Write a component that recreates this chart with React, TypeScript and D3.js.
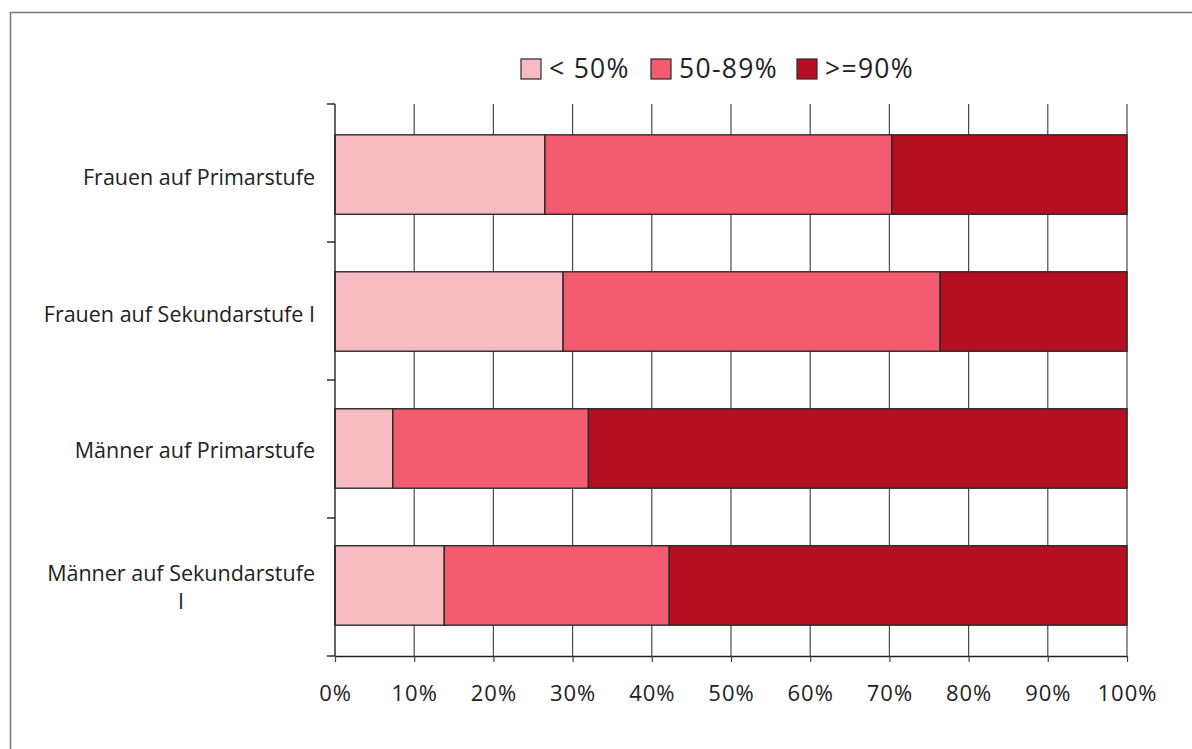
import { useEffect, useRef } from "react";
import * as d3 from "d3";

const categories = [
  "Frauen auf Primarstufe",
  "Frauen auf Sekundarstufe I",
  "Männer auf Primarstufe",
  "Männer auf Sekundarstufe I",
];
const seriesNames = ["< 50%", "50-89%", ">=90%"];
const seriesColors = ["#F8BBC2", "#F25C6E", "#B51022"];
const under50 = [26.5, 28.8, 7.3, 13.8];
const from50to89 = [43.8, 47.6, 24.7, 28.4];
const over90 = [29.7, 23.6, 68.0, 57.8];
const xTicks = [0, 10, 20, 30, 40, 50, 60, 70, 80, 90, 100];

const FONT = "'Open Sans', 'Noto Sans', sans-serif";

export default function App() {
  const svgRef = useRef<SVGSVGElement>(null);

  useEffect(() => {
    if (!svgRef.current) return;
    const svg = d3.select(svgRef.current);
    svg.selectAll("*").remove();

    const width = 1192;
    const height = 749;
    const margin = { top: 104, right: 65, bottom: 93, left: 335 };

    // frame around the chart
    svg
      .append("rect")
      .attr("x", 10.5)
      .attr("y", 12.5)
      .attr("width", width + 20)
      .attr("height", height + 20)
      .attr("fill", "white")
      .attr("stroke", "#7a7a7a")
      .attr("stroke-width", 1.5);

    const x = d3
      .scaleLinear()
      .domain([0, 100])
      .range([margin.left, width - margin.right]);

    const y = d3
      .scaleBand()
      .domain(categories)
      .range([margin.top, height - margin.bottom])
      .paddingInner(0.42)
      .paddingOuter(0.225);

    const rows = categories.map((c, i) => ({
      category: c,
      values: [under50[i], from50to89[i], over90[i]],
    }));

    // vertical gridlines
    svg
      .append("g")
      .selectAll("line")
      .data(xTicks.slice(1))
      .enter()
      .append("line")
      .attr("x1", (d) => x(d))
      .attr("x2", (d) => x(d))
      .attr("y1", margin.top)
      .attr("y2", height - margin.bottom)
      .attr("stroke", "#4a4a4a")
      .attr("stroke-width", 1.2);

    // stacked bars
    rows.forEach((row) => {
      let acc = 0;
      row.values.forEach((v, k) => {
        svg
          .append("rect")
          .attr("x", x(acc))
          .attr("y", y(row.category)!)
          .attr("width", x(acc + v) - x(acc))
          .attr("height", y.bandwidth())
          .attr("fill", seriesColors[k])
          .attr("stroke", "#2a2a2a")
          .attr("stroke-width", 1.4);
        acc += v;
      });
    });

    // left axis line with ticks at band boundaries
    const step = y.step();
    const bounds = d3.range(categories.length + 1).map((i) => margin.top + i * step * (552 / (step * 4)));
    svg
      .append("line")
      .attr("x1", x(0))
      .attr("x2", x(0))
      .attr("y1", margin.top)
      .attr("y2", height - margin.bottom)
      .attr("stroke", "#222")
      .attr("stroke-width", 1.4);
    svg
      .append("g")
      .selectAll("line")
      .data(bounds)
      .enter()
      .append("line")
      .attr("x1", x(0) - 8)
      .attr("x2", x(0))
      .attr("y1", (d) => d)
      .attr("y2", (d) => d)
      .attr("stroke", "#222")
      .attr("stroke-width", 1.4);

    // bottom axis
    const xAxis = d3
      .axisBottom(x)
      .tickValues(xTicks)
      .tickSize(6)
      .tickSizeOuter(0)
      .tickFormat((d) => `${d}%`);
    const gx = svg
      .append("g")
      .attr("transform", `translate(0,${height - margin.bottom})`)
      .call(xAxis);
    gx.select(".domain").attr("stroke", "#222").attr("stroke-width", 1.4);
    gx.selectAll(".tick line").attr("stroke", "#444").attr("stroke-width", 1.2);
    gx.selectAll(".tick text")
      .attr("y", 45)
      .attr("dy", 0)
      .style("font-family", FONT)
      .style("font-size", "22px")
      .style("letter-spacing", "1px")
      .style("fill", "#222");

    // category labels (wrap the long one)
    const labelRight = x(0) - 20;
    categories.forEach((c) => {
      const cy = y(c)! + y.bandwidth() / 2;
      const lines = c === "Männer auf Sekundarstufe I" ? ["Männer auf Sekundarstufe", "I"] : [c];
      const lh = 28;
      const t0 = cy + 10 - ((lines.length - 1) * lh) / 2;
      const first = svg
        .append("text")
        .attr("x", labelRight)
        .attr("y", t0)
        .attr("text-anchor", "end")
        .style("font-family", FONT)
        .style("font-size", "21.5px")
        .style("fill", "#222")
        .text(lines[0]);
      if (lines.length > 1) {
        const w = (first.node() as SVGTextElement).getComputedTextLength();
        svg
          .append("text")
          .attr("x", labelRight - w / 2)
          .attr("y", t0 + lh)
          .attr("text-anchor", "middle")
          .style("font-family", FONT)
          .style("font-size", "21.5px")
          .style("fill", "#222")
          .text(lines[1]);
      }
    });

    // legend
    const legend = svg.append("g").attr("transform", "translate(521,59)");
    const offsets = [0, 130, 276];
    seriesNames.forEach((name, k) => {
      const g = legend.append("g").attr("transform", `translate(${offsets[k]},0)`);
      g.append("rect")
        .attr("width", 20)
        .attr("height", 20)
        .attr("fill", seriesColors[k])
        .attr("stroke", "#2a2a2a")
        .attr("stroke-width", 1.2);
      g.append("text")
        .attr("x", 28)
        .attr("y", 19)
        .style("font-family", FONT)
        .style("font-size", "26.5px")
        .style("letter-spacing", "1.3px")
        .style("fill", "#222")
        .text(name);
    });
  }, []);

  return (
    <div style={{ position: "absolute", left: 0, top: 0, width: 1192, height: 749, overflow: "hidden", background: "white" }}>
      <svg ref={svgRef} width={1192} height={749} style={{ display: "block" }} />
    </div>
  );
}
